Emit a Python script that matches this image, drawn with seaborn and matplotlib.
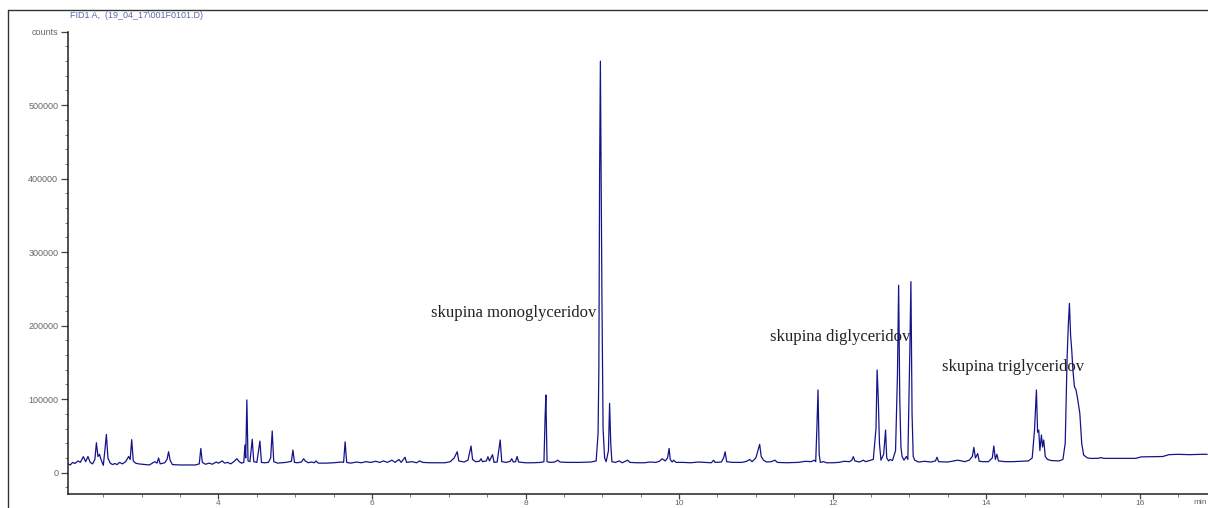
import pandas as pd
import matplotlib.pyplot as plt
import seaborn as sns
from matplotlib.lines import Line2D
from matplotlib.ticker import MultipleLocator, FixedLocator

# ----- FID chromatogram: (retention time [min], counts) -----

# start of run up to ~5.3 min
time_early = [2.04, 2.07, 2.10, 2.13, 2.17, 2.20, 2.24, 2.27, 2.30, 2.33, 2.36, 2.39, 2.41, 2.43,
              2.45, 2.47, 2.50, 2.52, 2.54, 2.56, 2.59, 2.62, 2.65, 2.68, 2.71, 2.75, 2.79, 2.83,
              2.85, 2.87, 2.89, 2.92, 2.96, 3.00, 3.05, 3.10, 3.14, 3.17, 3.20, 3.22, 3.24, 3.30,
              3.33, 3.35, 3.37, 3.40, 3.50, 3.60, 3.70, 3.75, 3.77, 3.79, 3.83, 3.88, 3.92, 3.97,
              4.00, 4.05, 4.08, 4.12, 4.16, 4.20, 4.24, 4.27, 4.30, 4.33, 4.345, 4.355, 4.37, 4.385,
              4.41, 4.44, 4.46, 4.50, 4.54, 4.56, 4.60, 4.65, 4.68, 4.70, 4.72, 4.77, 4.82, 4.88,
              4.95, 4.97, 4.99, 5.03, 5.08, 5.11, 5.13, 5.17, 5.21, 5.25, 5.27, 5.30]
counts_early = [12000, 10500, 14000, 12500, 16000, 14000, 21800, 15000, 22000, 14000, 12000, 18000,
                40800, 22000, 25000, 18000, 10000, 30000, 52000, 20000, 13000, 11000, 12500, 11000,
                14000, 12000, 15000, 22000, 18000, 45000, 16000, 13000, 12000, 11500, 11000, 10500,
                13000, 15000, 13000, 20000, 12000, 13500, 18000, 28500, 17000, 11000, 10500, 10500,
                10500, 12000, 33000, 14000, 11500, 13000, 11500, 14500, 13000, 16000, 13000, 14000,
                12000, 15000, 19000, 15000, 13000, 14000, 37700, 20000, 99000, 16000, 15000, 45400,
                15000, 14000, 43000, 14000, 13500, 14000, 20000, 56700, 15000, 13000, 13500, 14000,
                15500, 30800, 14000, 13500, 14500, 19000, 16000, 13500, 14500, 13500, 16000, 13000]

# monoglyceride region, ~5.4 to ~9.5 min
time_mono = [5.40, 5.50, 5.60, 5.63, 5.65, 5.67, 5.72, 5.80, 5.86, 5.92, 5.98, 6.05, 6.10, 6.15,
             6.20, 6.26, 6.30, 6.35, 6.38, 6.43, 6.45, 6.52, 6.58, 6.62, 6.66, 6.75, 6.85, 6.95,
             7.02, 7.07, 7.11, 7.13, 7.20, 7.25, 7.29, 7.31, 7.35, 7.40, 7.42, 7.44, 7.49, 7.51,
             7.53, 7.57, 7.59, 7.63, 7.67, 7.69, 7.75, 7.80, 7.82, 7.84, 7.87, 7.89, 7.91, 8.00,
             8.10, 8.20, 8.24, 8.255, 8.265, 8.28, 8.32, 8.38, 8.42, 8.45, 8.55, 8.70, 8.85, 8.92,
             8.945, 8.955, 8.965, 8.975, 8.985, 8.995, 9.01, 9.03, 9.05, 9.08, 9.095, 9.11, 9.125,
             9.17, 9.22, 9.26, 9.33, 9.36, 9.45]
counts_mono = [13000, 13500, 14500, 14000, 42000, 14000, 13000, 14500, 13500, 15000, 14000, 15500,
               14000, 16000, 14000, 17000, 14000, 18000, 14000, 21000, 14000, 15000, 13500, 16000,
               14000, 13500, 13500, 13500, 15000, 20000, 28500, 16000, 14500, 17000, 36300, 18000,
               15000, 15500, 19000, 15000, 16000, 21700, 16000, 24500, 14000, 14500, 44500, 15000,
               14000, 15500, 19000, 14500, 15000, 22000, 14500, 13500, 13500, 14000, 15000, 76000,
               105700, 15000, 14000, 14500, 17000, 14500, 14000, 14000, 14500, 16000, 53600, 140000,
               408000, 560000, 400000, 240000, 60000, 20000, 15000, 30000, 94400, 40000, 15000,
               14000, 16000, 13500, 17000, 14000, 13500]

# diglyceride region, ~9.5 to ~13.5 min
time_di = [9.55, 9.62, 9.70, 9.75, 9.78, 9.82, 9.85, 9.87, 9.885, 9.91, 9.93, 9.96, 10.05, 10.15,
           10.25, 10.33, 10.42, 10.45, 10.47, 10.55, 10.58, 10.60, 10.62, 10.70, 10.82, 10.88,
           10.92, 10.95, 11.00, 11.05, 11.07, 11.10, 11.14, 11.20, 11.25, 11.28, 11.40, 11.55,
           11.65, 11.72, 11.76, 11.78, 11.795, 11.81, 11.825, 11.84, 11.88, 11.92, 12.00, 12.08,
           12.15, 12.22, 12.25, 12.27, 12.29, 12.35, 12.40, 12.43, 12.48, 12.53, 12.565, 12.58,
           12.595, 12.61, 12.63, 12.665, 12.69, 12.705, 12.73, 12.75, 12.78, 12.82, 12.845, 12.86,
           12.875, 12.89, 12.905, 12.93, 12.96, 12.98, 13.005, 13.02, 13.035, 13.05, 13.07, 13.12,
           13.20, 13.28, 13.34, 13.36, 13.38, 13.50]
counts_di = [13500, 14500, 14000, 16000, 19000, 16000, 20000, 33000, 18000, 14500, 17000, 14000,
             14000, 13500, 14500, 14000, 13500, 17000, 14000, 14500, 20000, 28500, 15000, 14000,
             14000, 15500, 18000, 15000, 20000, 38600, 22000, 17000, 14500, 15000, 17000, 14000,
             13500, 14000, 15500, 15000, 17000, 15000, 60000, 112500, 25000, 14000, 15000, 13500,
             13500, 14000, 15500, 15000, 17000, 21800, 16000, 14500, 17000, 15000, 16500, 18000,
             60000, 139700, 101000, 40000, 17000, 25000, 58000, 20000, 16000, 18000, 16500, 30000,
             135000, 255000, 100000, 35000, 22000, 17000, 22000, 18000, 160000, 260000, 80000,
             22000, 17000, 14500, 15500, 14500, 16000, 21000, 15000, 14500]

# triglyceride region and end of run
time_tri = [13.58, 13.63, 13.68, 13.72, 13.78, 13.82, 13.84, 13.86, 13.89, 13.91, 13.96, 14.03,
            14.08, 14.10, 14.12, 14.14, 14.16, 14.25, 14.35, 14.45, 14.55, 14.60, 14.63, 14.655,
            14.67, 14.685, 14.70, 14.72, 14.735, 14.75, 14.77, 14.80, 14.85, 14.95, 15.00, 15.03,
            15.055, 15.07, 15.085, 15.10, 15.115, 15.13, 15.15, 15.17, 15.19, 15.22, 15.245, 15.27,
            15.32, 15.37, 15.45, 15.50, 15.53, 15.70, 15.95, 16.02, 16.17, 16.30, 16.38, 16.50,
            16.65, 16.80, 16.88]
counts_tri = [16000, 17000, 16000, 15000, 17000, 22000, 34500, 20000, 26000, 15500, 15000, 15000,
              20000, 36300, 18000, 25000, 16000, 15000, 15000, 15500, 16000, 20000, 58000, 112500,
              55000, 58000, 30000, 51300, 35000, 44500, 22000, 18000, 16500, 16000, 18000, 40000,
              158000, 200000, 230400, 187000, 167000, 140000, 117000, 113000, 101500, 81000, 40000,
              24000, 20000, 19400, 19500, 20500, 19500, 19500, 19500, 21500, 21800, 22000, 24500,
              25000, 24500, 25000, 25000]

group_labels = ['skupina monoglyceridov', 'skupina diglyceridov', 'skupina triglyceridov']
label_time = [6.77, 11.18, 13.43]
label_counts = [217000, 185000, 144000]

df = pd.DataFrame({'time': time_early + time_mono + time_di + time_tri,
                   'counts': counts_early + counts_mono + counts_di + counts_tri})

sns.set_style('ticks')
plt.rcParams['font.family'] = ['Liberation Sans', 'DejaVu Sans']

fig = plt.figure(figsize=(12.08, 5.08), dpi=100)
ax = fig.add_axes([68 / 1208, 14 / 508, 1 - 68 / 1208, (494 - 31.7) / 508])

sns.lineplot(data=df, x='time', y='counts', ax=ax, color='#14148a', linewidth=0.9,
             estimator=None, sort=False)

ax.set_xlim(2.04, 16.89)
ax.set_ylim(-29000, 600000)
sns.despine(ax=ax)
for sp in ['left', 'bottom']:
    ax.spines[sp].set_linewidth(1.1)
    ax.spines[sp].set_color('#222222')

ax.xaxis.set_major_locator(FixedLocator([4, 6, 8, 10, 12, 14, 16]))
ax.xaxis.set_minor_locator(MultipleLocator(0.5))
ax.yaxis.set_major_locator(MultipleLocator(100000))
ax.yaxis.set_minor_locator(MultipleLocator(20000))
ax.set_yticklabels(['' if v < -1 else ('counts' if v > 550000 else f'{int(v)}')
                    for v in ax.get_yticks()])
ax.tick_params(axis='y', which='major', length=5, width=0.9, color='#444444',
               labelsize=6.5, labelcolor='#666666', pad=2)
# x labels sit right at the bottom edge, keep them small so they stay inside
ax.tick_params(axis='x', which='major', length=3.5, width=0.9, color='#444444',
               labelsize=6, labelcolor='#666666', pad=0.5)
ax.tick_params(axis='both', which='minor', length=2.5, width=0.7, color='#777777')
ax.set_xlabel('')
ax.set_ylabel('')

for name, t, c in zip(group_labels, label_time, label_counts):
    ax.text(t, c, name, ha='left', va='center', fontsize=12,
            family=['Liberation Serif', 'DejaVu Serif'], color='#222222')

fig.text(70 / 1208, 1 - 15 / 508, 'FID1 A,  (19_04_17\\001F0101.D)', ha='left', va='center',
         fontsize=6.5, color='#5a6aa8')
fig.text(1207 / 1208, 2 / 508, 'min', ha='right', va='bottom', fontsize=6,
         color='#666666')

# outer frame of the instrument report
fig.add_artist(Line2D([8 / 1208, 8 / 1208], [0, 1 - 10 / 508], transform=fig.transFigure,
                      color='#333333', linewidth=1))
fig.add_artist(Line2D([8 / 1208, 1], [1 - 10 / 508, 1 - 10 / 508], transform=fig.transFigure,
                      color='#333333', linewidth=1))

fig.savefig('out.png', dpi=100)
